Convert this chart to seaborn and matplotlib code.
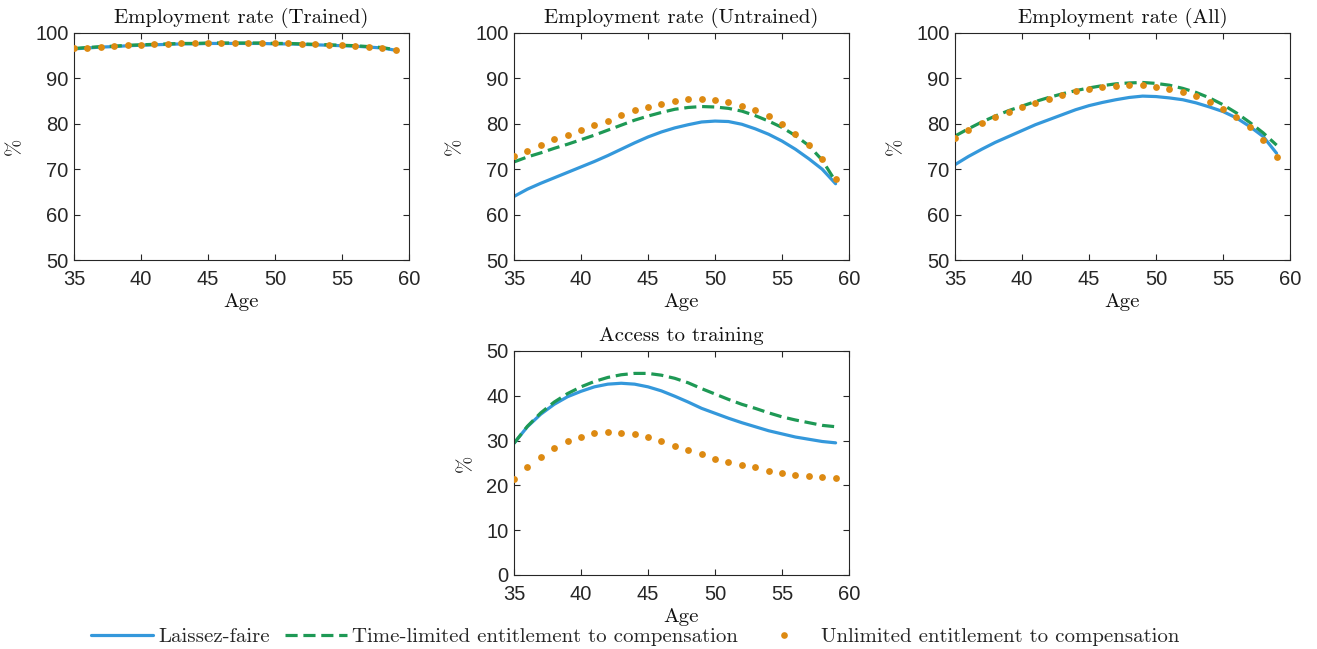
import numpy as np
import pandas as pd
import matplotlib
matplotlib.use("Agg")
import matplotlib.pyplot as plt
import seaborn as sns
from matplotlib.lines import Line2D

ages = list(range(35, 60))

series_names = ["Laissez-faire",
                "Time-limited entitlement to compensation",
                "Unlimited entitlement to compensation"]

# Employment rate (Trained)
trained_lf = [96.5, 96.7, 96.9, 97.0, 97.2, 97.3, 97.4, 97.5, 97.6, 97.6, 97.7, 97.7, 97.7, 97.7, 97.7, 97.6, 97.6, 97.5, 97.4, 97.3, 97.2, 97.1, 96.9, 96.7, 96.2]
trained_tl = [96.6, 96.8, 97.0, 97.1, 97.3, 97.4, 97.5, 97.6, 97.7, 97.7, 97.8, 97.8, 97.8, 97.8, 97.8, 97.7, 97.7, 97.6, 97.5, 97.4, 97.3, 97.2, 97.0, 96.8, 96.3]
trained_ul = [96.6, 96.8, 97.0, 97.1, 97.3, 97.4, 97.5, 97.6, 97.7, 97.7, 97.8, 97.8, 97.8, 97.8, 97.8, 97.7, 97.7, 97.6, 97.5, 97.4, 97.3, 97.2, 97.0, 96.8, 96.3]

# Employment rate (Untrained)
untrained_lf = [64.0, 65.6, 66.9, 68.1, 69.3, 70.5, 71.7, 73.0, 74.4, 75.8, 77.1, 78.2, 79.1, 79.8, 80.4, 80.6, 80.5, 79.9, 78.9, 77.7, 76.2, 74.4, 72.3, 70.0, 66.8]
untrained_tl = [71.6, 72.7, 73.6, 74.6, 75.5, 76.5, 77.5, 78.6, 79.7, 80.8, 81.7, 82.5, 83.2, 83.6, 83.8, 83.7, 83.4, 82.8, 81.8, 80.6, 79.2, 77.4, 75.2, 72.0, 67.3]
untrained_ul = [72.9, 74.1, 75.4, 76.6, 77.6, 78.7, 79.7, 80.7, 81.9, 83.1, 83.7, 84.4, 85.0, 85.4, 85.4, 85.3, 84.9, 84.0, 83.1, 81.8, 79.9, 77.8, 75.3, 72.2, 67.9]

# Employment rate (All)
all_lf = [71.0, 72.8, 74.4, 75.9, 77.2, 78.5, 79.8, 80.9, 82.0, 83.1, 84.0, 84.7, 85.3, 85.8, 86.1, 86.0, 85.7, 85.3, 84.6, 83.7, 82.7, 81.3, 79.4, 77.2, 73.5]
all_tl = [77.3, 78.9, 80.4, 81.7, 82.9, 83.9, 84.9, 85.8, 86.6, 87.3, 87.9, 88.4, 88.8, 89.0, 89.1, 88.9, 88.5, 87.8, 86.9, 85.7, 84.2, 82.4, 80.3, 78.0, 75.3]
all_ul = [76.9, 78.6, 80.1, 81.5, 82.6, 83.6, 84.6, 85.4, 86.3, 87.2, 87.6, 88.0, 88.3, 88.5, 88.5, 88.2, 87.7, 87.1, 86.1, 84.9, 83.3, 81.5, 79.3, 76.5, 72.6]

# Access to training
access_lf = [29.4, 33.1, 35.9, 38.1, 39.8, 41.0, 42.0, 42.6, 42.8, 42.6, 42.0, 41.1, 39.9, 38.6, 37.2, 36.1, 35.0, 34.0, 33.1, 32.2, 31.5, 30.8, 30.3, 29.8, 29.5]
access_tl = [29.4, 33.2, 36.2, 38.6, 40.5, 42.0, 43.2, 44.1, 44.7, 45.0, 45.0, 44.6, 43.9, 42.9, 41.6, 40.4, 39.2, 38.1, 37.2, 36.2, 35.3, 34.6, 34.0, 33.4, 33.1]
access_ul = [21.4, 24.1, 26.4, 28.3, 29.8, 30.9, 31.6, 31.9, 31.8, 31.5, 30.9, 29.8, 28.8, 27.8, 26.9, 26.0, 25.3, 24.6, 24.0, 23.3, 22.8, 22.4, 22.0, 21.8, 21.7]

titles = ["Employment rate (Trained)", "Employment rate (Untrained)",
          "Employment rate (All)", "Access to training"]

sns.set_theme(style="ticks")
plt.rcParams["font.family"] = ["Liberation Sans", "DejaVu Sans"]

C_BLUE = "#3498db"
C_GREEN = "#1e9955"
C_ORANGE = "#dd8a12"
SPINE = "#262626"
serif = ["cmr10", "DejaVu Serif"]
DASH = (0, (3.8, 1.8))

fig = plt.figure(figsize=(13.17, 6.49), dpi=100)
W = 335 / 1317
H1 = 227 / 649
positions = [
    [74 / 1317, 1 - 260 / 649, W, H1],
    [514 / 1317, 1 - 260 / 649, W, H1],
    [955 / 1317, 1 - 260 / 649, W, H1],
    [514 / 1317, 1 - 575 / 649, W, 224 / 649],
]
data = [
    (trained_lf, trained_tl, trained_ul),
    (untrained_lf, untrained_tl, untrained_ul),
    (all_lf, all_tl, all_ul),
    (access_lf, access_tl, access_ul),
]
ylims = [(50, 100), (50, 100), (50, 100), (0, 50)]
yticks = [np.arange(50, 101, 10)] * 3 + [np.arange(0, 51, 10)]

for pos, (lf, tl, ul), title, yl, yt in zip(positions, data, titles, ylims, yticks):
    ax = fig.add_axes(pos)
    sns.lineplot(x=ages, y=lf, ax=ax, color=C_BLUE, lw=2.3, legend=False)
    sns.lineplot(x=ages, y=tl, ax=ax, color=C_GREEN, lw=2.3, legend=False,
                 linestyle=DASH)
    sns.scatterplot(x=ages, y=ul, ax=ax, color=C_ORANGE, s=24, linewidth=0,
                    legend=False, zorder=5)
    ax.set_xlim(35, 60)
    ax.set_ylim(*yl)
    ax.set_xticks([35, 40, 45, 50, 55, 60])
    ax.set_yticks(yt)
    ax.tick_params(direction="in", top=True, right=True, length=4, width=0.8,
                   labelsize=14.5, colors=SPINE)
    ax.tick_params(axis="x", pad=7)
    ax.tick_params(axis="y", pad=4)
    for sp in ax.spines.values():
        sp.set_visible(True)
        sp.set_color(SPINE)
        sp.set_linewidth(0.8)
    ax.set_title(title, family=serif, fontsize=15, pad=7, color="#111111")
    ax.set_xlabel("Age", family=serif, fontsize=15, labelpad=3, color="#111111")
    ax.set_ylabel("%", family=serif, fontsize=15, labelpad=8, color="#111111")

handles = [
    Line2D([0], [0], color=C_BLUE, lw=2.3),
    Line2D([0], [0], color=C_GREEN, lw=2.3, linestyle=DASH),
    Line2D([0], [0], color=C_ORANGE, marker="o", markersize=4.8, lw=0,
           markeredgewidth=0),
]
fig.legend(handles, series_names, loc="center", bbox_to_anchor=(0.482, 0.019),
           ncol=3, frameon=False, prop={"family": serif, "size": 15},
           handlelength=3.0, handletextpad=0.25, columnspacing=0.7)

fig.savefig("out.png", dpi=100)
